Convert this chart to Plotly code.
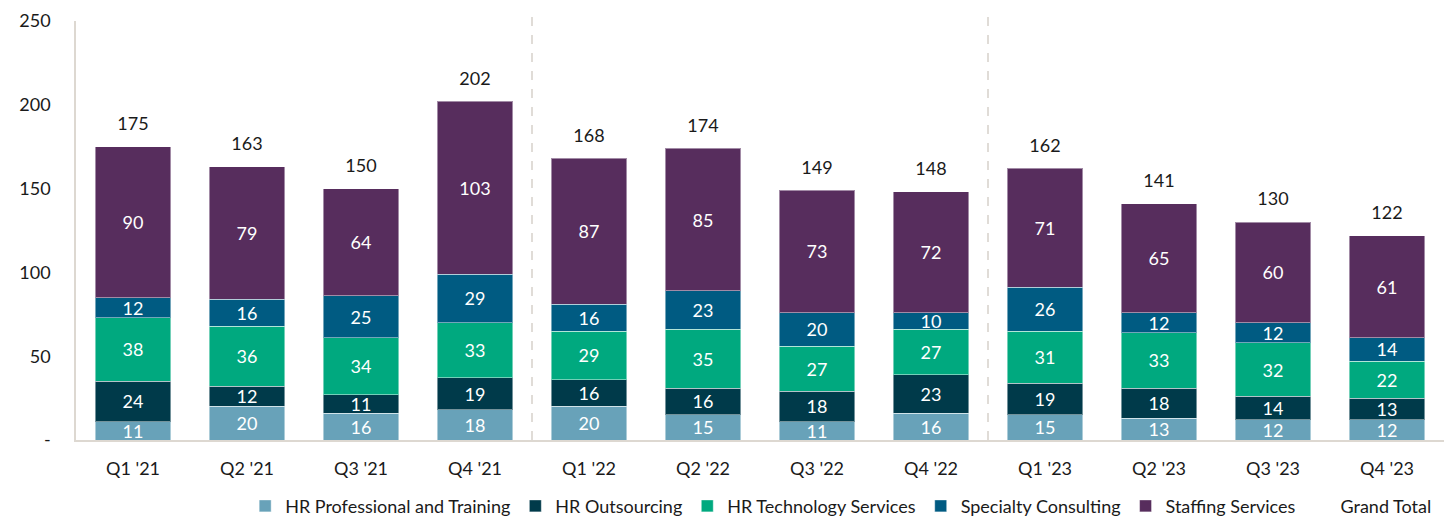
import plotly.graph_objects as go

quarters = ["Q1 '21", "Q2 '21", "Q3 '21", "Q4 '21", "Q1 '22", "Q2 '22", "Q3 '22", "Q4 '22",
            "Q1 '23", "Q2 '23", "Q3 '23", "Q4 '23"]
hr_prof = [11, 20, 16, 18, 20, 15, 11, 16, 15, 13, 12, 12]
hr_out = [24, 12, 11, 19, 16, 16, 18, 23, 19, 18, 14, 13]
hr_tech = [38, 36, 34, 33, 29, 35, 27, 27, 31, 33, 32, 22]
specialty = [12, 16, 25, 29, 16, 23, 20, 10, 26, 12, 12, 14]
staffing = [90, 79, 64, 103, 87, 85, 73, 72, 71, 65, 60, 61]
grand_total = [175, 163, 150, 202, 168, 174, 149, 148, 162, 141, 130, 122]

series = [
    ("HR Professional and Training", hr_prof, "#68a2b9"),
    ("HR Outsourcing", hr_out, "#003a4a"),
    ("HR Technology Services", hr_tech, "#00a97f"),
    ("Specialty Consulting", specialty, "#005b82"),
    ("Staffing Services", staffing, "#572d5d"),
]

FONT = "Lato, sans-serif"
x_idx = list(range(len(quarters)))

fig = go.Figure()
for name, vals, color in series:
    fig.add_trace(go.Bar(
        x=x_idx, y=vals, name=name,
        marker=dict(color=color, line=dict(color="rgba(255,255,255,0.45)", width=1)),
        width=0.665,
        text=[str(v) for v in vals], textposition="inside", insidetextanchor="middle",
        textangle=0,
        textfont=dict(color="white", size=18, family=FONT),
        constraintext="none", cliponaxis=False,
    ))

fig.add_trace(go.Scatter(
    x=x_idx, y=grand_total, name="Grand Total", mode="markers+text",
    marker=dict(color="rgba(0,0,0,0)", size=18, symbol="square"),
    text=[str(v) for v in grand_total], textposition="top center",
    textfont=dict(color="#1a1a1a", size=18, family=FONT),
    cliponaxis=False, hoverinfo="skip",
))

for xv in (3.5, 7.5):
    fig.add_shape(type="line", xref="x", yref="paper", x0=xv, x1=xv, y0=0, y1=1.01,
                  line=dict(color="#d6d1ca", width=1.5, dash="dash"))

fig.update_layout(
    width=1445, height=514,
    barmode="stack", bargap=0.33,
    plot_bgcolor="white", paper_bgcolor="white",
    margin=dict(l=68, r=9, t=13, b=82, autoexpand=False),
    font=dict(family=FONT, size=18, color="#1a1a1a"),
    showlegend=True,
    legend=dict(orientation="h", x=0.995, xanchor="right", y=-0.158, yanchor="middle",
                font=dict(size=18, family=FONT, color="#1a1a1a"),
                traceorder="normal", itemwidth=30, bgcolor="rgba(0,0,0,0)"),
)
fig.update_xaxes(
    tickmode="array", tickvals=x_idx, ticktext=quarters,
    range=[-0.5, 11.5], showline=True, linecolor="#ddd8d1", linewidth=1.5,
    showgrid=False, ticks="", ticklabelstandoff=12, tickfont=dict(size=18),
)
fig.update_yaxes(
    range=[0, 250], tickmode="array", tickvals=[0, 50, 100, 150, 200, 250],
    ticktext=["-", "50", "100", "150", "200", "250"],
    showline=True, linecolor="#ddd8d1", linewidth=1.5, showgrid=False, zeroline=False,
    ticks="", ticklabelstandoff=20, tickfont=dict(size=18),
)

fig.write_html("out.html")
